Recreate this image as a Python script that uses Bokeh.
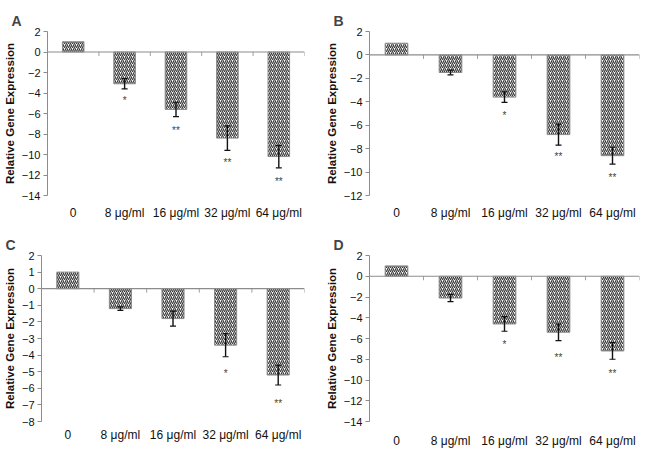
import math
from bokeh.plotting import figure
from bokeh.models import ColumnDataSource, Whisker, TeeHead, Span, FixedTicker
from bokeh.layouts import column, row
from bokeh.core.properties import value
from bokeh.embed import file_html
from bokeh.resources import INLINE

categories = ["0", "8 μg/ml", "16 μg/ml", "32 μg/ml", "64 μg/ml"]

a_values = [1.0, -3.1, -5.6, -8.4, -10.2]
a_errors = [0.0, 0.5, 0.7, 1.2, 1.1]
a_stars = ["", "*", "**", "**", "**"]
a_star_y = [0, -4.7, -7.7, -10.8, -12.6]

b_values = [1.0, -1.5, -3.6, -6.8, -8.6]
b_errors = [0.0, 0.2, 0.45, 0.9, 0.72]
b_stars = ["", "", "*", "**", "**"]
b_star_y = [0, 0, -5.2, -8.7, -10.5]

c_values = [1.0, -1.2, -1.8, -3.4, -5.2]
c_errors = [0.0, 0.1, 0.45, 0.7, 0.6]
c_stars = ["", "", "", "*", "**"]
c_star_y = [0, 0, 0, -5.1, -6.9]

d_values = [1.0, -2.1, -4.6, -5.4, -7.2]
d_errors = [0.0, 0.35, 0.7, 0.8, 0.8]
d_stars = ["", "", "*", "**", "**"]
d_star_y = [0, 0, -6.6, -7.8, -9.4]

FONT = "Liberation Sans"


def make(label, vals, errs, stars, stars_y, yticks, width, height, bt, bb, br, xstandoff):
    n = len(categories)
    xs = [i + 0.5 for i in range(n)]
    p = figure(width=width, height=height, x_range=(0, n),
               y_range=(yticks[0], yticks[-1]),
               output_backend="svg", toolbar_location=None,
               min_border_top=bt, min_border_bottom=bb, min_border_right=br,
               min_border_left=10)
    p.outline_line_color = None
    p.xgrid.visible = False
    p.ygrid.visible = False
    p.background_fill_color = "white"
    p.border_fill_color = "white"

    p.title.text = label
    p.title.text_font = FONT
    p.title.text_font_style = "bold"
    p.title.text_font_size = "14px"
    p.title.align = "left"
    p.title.offset = -36
    p.title.standoff = 6

    src = ColumnDataSource(dict(
        x=xs, top=vals, stars=stars, sy=stars_y))

    p.vbar(x="x", top="top", bottom=0, width=0.42, source=src,
           fill_color="white", line_color="#8a8a8a", line_width=1,
           hatch_pattern="right_diagonal_line", hatch_color="#3c3c3c",
           hatch_scale=4.0, hatch_weight=1.25)

    zero = Span(location=0, dimension="width", line_color="#8c8c8c", line_width=1.2)
    p.add_layout(zero)
    p.ray(x=[i for i in range(1, n + 1)], y=[0] * n, length=4,
          length_units="screen", angle=-math.pi / 2,
          line_color="#a0a0a0", line_width=1)

    errsrc = ColumnDataSource(dict(
        x=[x for x, e in zip(xs, errs) if e > 0],
        upper=[v + e for v, e in zip(vals, errs) if e > 0],
        lower=[v - e for v, e in zip(vals, errs) if e > 0]))
    w = Whisker(source=errsrc, base="x", upper="upper", lower="lower",
                dimension="height", line_color="#111111", line_width=1.4,
                level="overlay",
                upper_head=TeeHead(size=6, line_color="#111111", line_width=1.2),
                lower_head=TeeHead(size=6, line_color="#111111", line_width=1.2))
    p.add_layout(w)

    p.text(x="x", y="sy", text="stars", source=src,
           text_align="center", text_baseline="middle",
           text_font=value(FONT), text_font_size="10px", text_color="#444444")

    p.xaxis.ticker = FixedTicker(ticks=xs)
    p.xaxis.major_label_overrides = {x: c for x, c in zip(xs, categories)}
    p.xaxis.axis_line_color = None
    p.xaxis.major_tick_line_color = None
    p.xaxis.major_tick_out = 0
    p.xaxis.major_tick_in = 0
    p.xaxis.minor_tick_line_color = None
    p.xaxis.minor_tick_out = 0
    p.xaxis.minor_tick_in = 0
    p.xaxis.axis_label_standoff = 0
    p.xaxis.major_label_standoff = xstandoff
    p.xaxis.major_label_text_font = FONT
    p.xaxis.major_label_text_font_size = "12px"
    p.xaxis.major_label_text_line_height = 1.0
    p.xaxis.major_label_text_color = "#111111"

    p.yaxis.ticker = FixedTicker(ticks=yticks)
    p.yaxis.axis_line_color = "#8c8c8c"
    p.yaxis.major_tick_line_color = "#8c8c8c"
    p.yaxis.major_tick_out = 4
    p.yaxis.major_tick_in = 0
    p.yaxis.minor_tick_line_color = None
    p.yaxis.major_label_standoff = 3
    p.yaxis.major_label_text_font = FONT
    p.yaxis.major_label_text_font_size = "11px"
    p.yaxis.major_label_text_color = "#111111"
    p.yaxis.axis_label = "Relative Gene Expression"
    p.yaxis.axis_label_text_font = FONT
    p.yaxis.axis_label_text_font_style = "bold"
    p.yaxis.axis_label_text_font_size = "11.5px"
    p.yaxis.axis_label_text_color = "#111111"
    p.yaxis.axis_label_standoff = 3
    return p


pA = make("A", a_values, a_errors, a_stars, a_star_y, list(range(-14, 3, 2)),
          322, 228, 29, 32, 18, 10)
pB = make("B", b_values, b_errors, b_stars, b_star_y, list(range(-12, 3, 2)),
          323, 228, 31, 33, 6, 10)
pC = make("C", c_values, c_errors, c_stars, c_star_y, list(range(-8, 3, 1)),
          322, 222, 20, 29, 18, 6)
pD = make("D", d_values, d_errors, d_stars, d_star_y, list(range(-14, 3, 2)),
          323, 222, 27, 29, 6, 12)

layout = column(row(pA, pB), row(pC, pD))
open("out.html", "w").write(file_html(layout, INLINE))
